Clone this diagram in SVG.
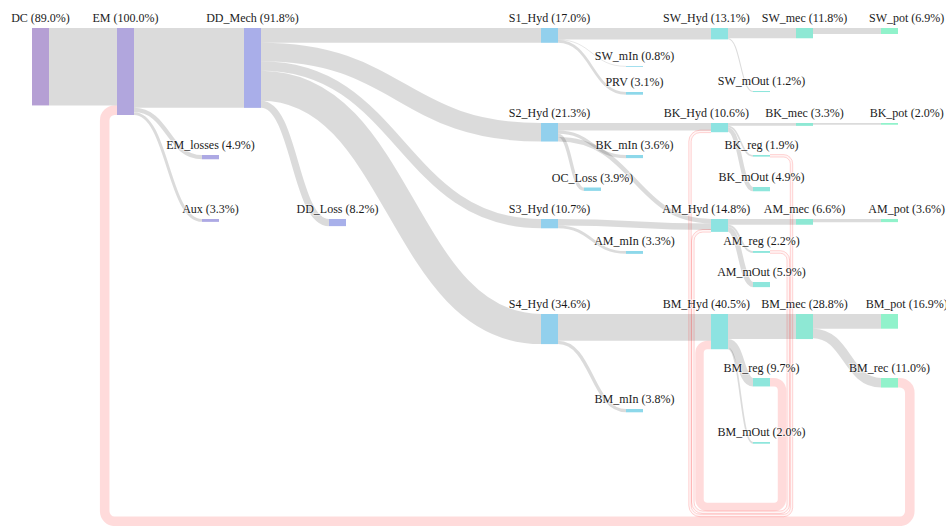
<svg xmlns="http://www.w3.org/2000/svg" width="946" height="526" viewBox="0 0 946 526">
<style>
.lk path{fill:none;stroke:#000;stroke-opacity:0.14}
.cl{fill:none;stroke:#ff0000;stroke-opacity:0.14}
.ce{fill:none;stroke:#ff0000;stroke-opacity:0.2;stroke-width:0.9}
.cf{fill:none;stroke:#ff0000;stroke-opacity:0.04}
text{font-family:"Liberation Serif","Times New Roman",serif;font-size:12px;fill:#1a1a1a;text-anchor:middle;stroke:#fff;stroke-width:1.5;stroke-opacity:0.6;paint-order:stroke}
.p1{fill:#b59fd4}.p2{fill:#b1a6dd}.p3{fill:#a9aee9}.p4{fill:#ada9e4}.p5{fill:#a8b0ea}
.b1{fill:#92d0ed}.b2{fill:#8dd8ea}.t1{fill:#8de3e1}.t2{fill:#8ee6dc}.t3{fill:#8ee8d4}.g1{fill:#91f2cb}
</style>
<rect width="946" height="526" fill="#fff"/>
<g id="connectors">
<g class="lk">
<path stroke-width="77.43" d="M49,66.715 H117"/>
<path stroke-width="79.87" d="M134,67.935 H244"/>
<path stroke-width="4.26" d="M134,109.99 C168,109.99 168,157.13 202,157.13"/>
<path stroke-width="2.87" d="M134,113.565 C168,113.565 168,220.435 202,220.435"/>
<path stroke-width="14.79" d="M261,35.395 H541"/>
<path stroke-width="18.53" d="M261,52.055 C401,52.055 401,132.265 541,132.265"/>
<path stroke-width="9.31" d="M261,65.975 C401,65.975 401,223.655 541,223.655"/>
<path stroke-width="30.1" d="M261,85.68 C401,85.68 401,329.05 541,329.05"/>
<path stroke-width="7.13" d="M261,104.295 C295,104.295 295,222.565 329,222.565"/>
<path stroke-width="11.4" d="M558,33.7 H711"/>
<path stroke-width="0.7" d="M558,39.75 C592,39.75 592,66.35 626,66.35"/>
<path stroke-width="2.69" d="M558,41.445 C592,41.445 592,93.345 626,93.345"/>
<path stroke-width="7.57" d="M558,126.785 H711"/>
<path stroke-width="3.13" d="M558,132.135 C592,132.135 592,156.565 626,156.565"/>
<path stroke-width="3.39" d="M558,135.395 C571,135.395 571,189.195 584,189.195"/>
<path stroke-width="4.44" d="M558,139.31 C634.5,139.31 634.5,221.22 711,221.22"/>
<path stroke-width="6.44" d="M558,222.22 C634.5,222.22 634.5,226.66 711,226.66"/>
<path stroke-width="2.87" d="M558,226.875 C592,226.875 592,252.435 626,252.435"/>
<path stroke-width="26.8" d="M558,327.4 H711"/>
<path stroke-width="3.31" d="M558,342.45 C592,342.45 592,410.655 626,410.655"/>
<path stroke-width="10.27" d="M728,33.135 H796"/>
<path stroke-width="1.04" d="M728,38.79 C740.5,38.79 740.5,91.52 753,91.52"/>
<path stroke-width="2.87" d="M728,124.435 H796"/>
<path stroke-width="1.65" d="M728,126.695 C740.5,126.695 740.5,155.825 753,155.825"/>
<path stroke-width="4.26" d="M728,129.65 C740.5,129.65 740.5,189.13 753,189.13"/>
<path stroke-width="5.74" d="M728,221.87 H796"/>
<path stroke-width="1.91" d="M728,225.695 C740.5,225.695 740.5,251.955 753,251.955"/>
<path stroke-width="5.13" d="M728,229.215 C740.5,229.215 740.5,284.565 753,284.565"/>
<path stroke-width="25.06" d="M728,326.53 H796"/>
<path stroke-width="8.44" d="M728,343.28 C740.5,343.28 740.5,382.22 753,382.22"/>
<path stroke-width="1.74" d="M728,348.37 C740.5,348.37 740.5,442.87 753,442.87"/>
<path stroke-width="6" d="M813,31 H881"/>
<path stroke-width="1.74" d="M813,123.87 H881"/>
<path stroke-width="3.13" d="M813,220.565 H881"/>
<path stroke-width="14.7" d="M813,321.35 H881"/>
<path stroke-width="9.57" d="M813,333.485 C847,333.485 847,382.785 881,382.785"/>
</g>
<path class="cl" stroke-width="9.57" d="M898,382.8 H899.8 A10,10 0 0 1 909.8,392.8 V511.3 A10,10 0 0 1 899.8,521.3 H114.7 A10,10 0 0 1 104.7,511.3 V120.2 A10,10 0 0 1 114.7,110.2 H117"/>
<path class="cl" stroke-width="8.44" d="M770,382.2 H774 A8,8 0 0 1 782,390.2 V499 A8,8 0 0 1 774,507 H707.5 A8,8 0 0 1 699.5,499 V353 A8,8 0 0 1 707.5,345 H711"/>
<path class="cf" stroke-width="1.9" d="M770,252 H780.3 A8,8 0 0 1 788.3,260 V504.3 A8,8 0 0 1 780.3,512.3 H702.8 A10,10 0 0 1 692.8,502.3 V240.8 A10,10 0 0 1 702.8,230.8 H711"/>
<path class="ce" d="M770,250.7 H780.3 A9.3,9.3 0 0 1 789.6,260 V504.3 A9.3,9.3 0 0 1 780.3,513.6 H702.8 A11.3,11.3 0 0 1 691.5,502.3 V240.8 A11.3,11.3 0 0 1 702.8,229.5 H711"/>
<path class="ce" d="M770,253.3 H780.3 A6.7,6.7 0 0 1 787,260 V504.3 A6.7,6.7 0 0 1 780.3,511 H702.8 A8.7,8.7 0 0 1 694.1,502.3 V240.8 A8.7,8.7 0 0 1 702.8,232.1 H711"/>
<path class="cf" stroke-width="1.65" d="M770,155.8 H783.5 A8,8 0 0 1 791.5,163.8 V507.5 A8,8 0 0 1 783.5,515.5 H700 A10,10 0 0 1 690,505.5 V141.4 A10,10 0 0 1 700,131.4 H711"/>
<path class="ce" d="M770,154.6 H783.5 A9.2,9.2 0 0 1 792.7,163.8 V507.5 A9.2,9.2 0 0 1 783.5,516.7 H700 A11.2,11.2 0 0 1 688.8,505.5 V141.4 A11.2,11.2 0 0 1 700,130.2 H711"/>
<path class="ce" d="M770,157 H783.5 A6.8,6.8 0 0 1 790.3,163.8 V507.5 A6.8,6.8 0 0 1 783.5,514.3 H700 A8.8,8.8 0 0 1 691.2,505.5 V141.4 A8.8,8.8 0 0 1 700,132.6 H711"/>
</g>
<g id="DC"><rect class="p1" x="32" y="28" width="17" height="77.43"/><text x="40.5" y="22">DC (89.0%)</text></g>
<g id="EM"><rect class="p2" x="117" y="28" width="17" height="87"/><text x="125.5" y="22">EM (100.0%)</text></g>
<g id="DD_Mech"><rect class="p3" x="244" y="28" width="17" height="79.87"/><text x="252.5" y="22">DD_Mech (91.8%)</text></g>
<g id="EM_losses"><rect class="p4" x="202" y="155" width="17" height="4.26"/><text x="210.5" y="149">EM_losses (4.9%)</text></g>
<g id="Aux"><rect class="p4" x="202" y="219" width="17" height="2.87"/><text x="210.5" y="213">Aux (3.3%)</text></g>
<g id="DD_Loss"><rect class="p5" x="329" y="219" width="17" height="7.13"/><text x="337.5" y="213">DD_Loss (8.2%)</text></g>
<g id="S1_Hyd"><rect class="b1" x="541" y="28" width="17" height="14.79"/><text x="549.5" y="22">S1_Hyd (17.0%)</text></g>
<g id="S2_Hyd"><rect class="b1" x="541" y="123" width="17" height="18.53"/><text x="549.5" y="117">S2_Hyd (21.3%)</text></g>
<g id="S3_Hyd"><rect class="b1" x="541" y="219" width="17" height="9.31"/><text x="549.5" y="213">S3_Hyd (10.7%)</text></g>
<g id="S4_Hyd"><rect class="b1" x="541" y="314" width="17" height="30.1"/><text x="549.5" y="308">S4_Hyd (34.6%)</text></g>
<g id="SW_mIn"><rect class="b2" x="626" y="66" width="17" height="0.8"/><text x="634.5" y="60">SW_mIn (0.8%)</text></g>
<g id="PRV"><rect class="b2" x="626" y="92" width="17" height="2.7"/><text x="634.5" y="86">PRV (3.1%)</text></g>
<g id="BK_mIn"><rect class="b2" x="626" y="155" width="17" height="3.13"/><text x="634.5" y="149">BK_mIn (3.6%)</text></g>
<g id="OC_Loss"><rect class="b2" x="584" y="187.5" width="17" height="3.39"/><text x="592.5" y="181.5">OC_Loss (3.9%)</text></g>
<g id="AM_mIn"><rect class="b2" x="626" y="251" width="17" height="2.87"/><text x="634.5" y="245">AM_mIn (3.3%)</text></g>
<g id="BM_mIn"><rect class="b2" x="626" y="409" width="17" height="3.31"/><text x="634.5" y="403">BM_mIn (3.8%)</text></g>
<g id="SW_Hyd"><rect class="t1" x="711" y="28" width="17" height="11.4"/><text x="706.3" y="22">SW_Hyd (13.1%)</text></g>
<g id="BK_Hyd"><rect class="t1" x="711" y="123" width="17" height="9.22"/><text x="706.3" y="117">BK_Hyd (10.6%)</text></g>
<g id="AM_Hyd"><rect class="t1" x="711" y="219" width="17" height="12.88"/><text x="706.3" y="213">AM_Hyd (14.8%)</text></g>
<g id="BM_Hyd"><rect class="t1" x="711" y="314" width="17" height="35.24"/><text x="706.3" y="308">BM_Hyd (40.5%)</text></g>
<g id="SW_mOut"><rect class="t2" x="753" y="91" width="17" height="1.04"/><text x="761.5" y="85">SW_mOut (1.2%)</text></g>
<g id="BK_reg"><rect class="t2" x="753" y="155" width="17" height="1.65"/><text x="761.5" y="149">BK_reg (1.9%)</text></g>
<g id="BK_mOut"><rect class="t2" x="753" y="187" width="17" height="4.26"/><text x="761.5" y="181">BK_mOut (4.9%)</text></g>
<g id="AM_reg"><rect class="t2" x="753" y="251" width="17" height="1.91"/><text x="761.5" y="245">AM_reg (2.2%)</text></g>
<g id="AM_mOut"><rect class="t2" x="753" y="282" width="17" height="5.13"/><text x="761.5" y="276">AM_mOut (5.9%)</text></g>
<g id="BM_reg"><rect class="t2" x="753" y="378" width="17" height="8.44"/><text x="761.5" y="372">BM_reg (9.7%)</text></g>
<g id="BM_mOut"><rect class="t2" x="753" y="442" width="17" height="1.74"/><text x="761.5" y="436">BM_mOut (2.0%)</text></g>
<g id="SW_mec"><rect class="t3" x="796" y="28" width="17" height="10.27"/><text x="804.5" y="22">SW_mec (11.8%)</text></g>
<g id="BK_mec"><rect class="t3" x="796" y="123" width="17" height="2.87"/><text x="804.5" y="117">BK_mec (3.3%)</text></g>
<g id="AM_mec"><rect class="t3" x="796" y="219" width="17" height="5.74"/><text x="804.5" y="213">AM_mec (6.6%)</text></g>
<g id="BM_mec"><rect class="t3" x="796" y="314" width="17" height="25.06"/><text x="804.5" y="308">BM_mec (28.8%)</text></g>
<g id="SW_pot"><rect class="g1" x="881" y="28" width="17" height="6"/><text x="906.7" y="22">SW_pot (6.9%)</text></g>
<g id="BK_pot"><rect class="g1" x="881" y="123" width="17" height="1.74"/><text x="906.7" y="117">BK_pot (2.0%)</text></g>
<g id="AM_pot"><rect class="g1" x="881" y="219" width="17" height="3.13"/><text x="906.7" y="213">AM_pot (3.6%)</text></g>
<g id="BM_pot"><rect class="g1" x="881" y="314" width="17" height="14.7"/><text x="906.7" y="308">BM_pot (16.9%)</text></g>
<g id="BM_rec"><rect class="g1" x="881" y="378" width="17" height="9.57"/><text x="889.5" y="372">BM_rec (11.0%)</text></g>
</svg>
